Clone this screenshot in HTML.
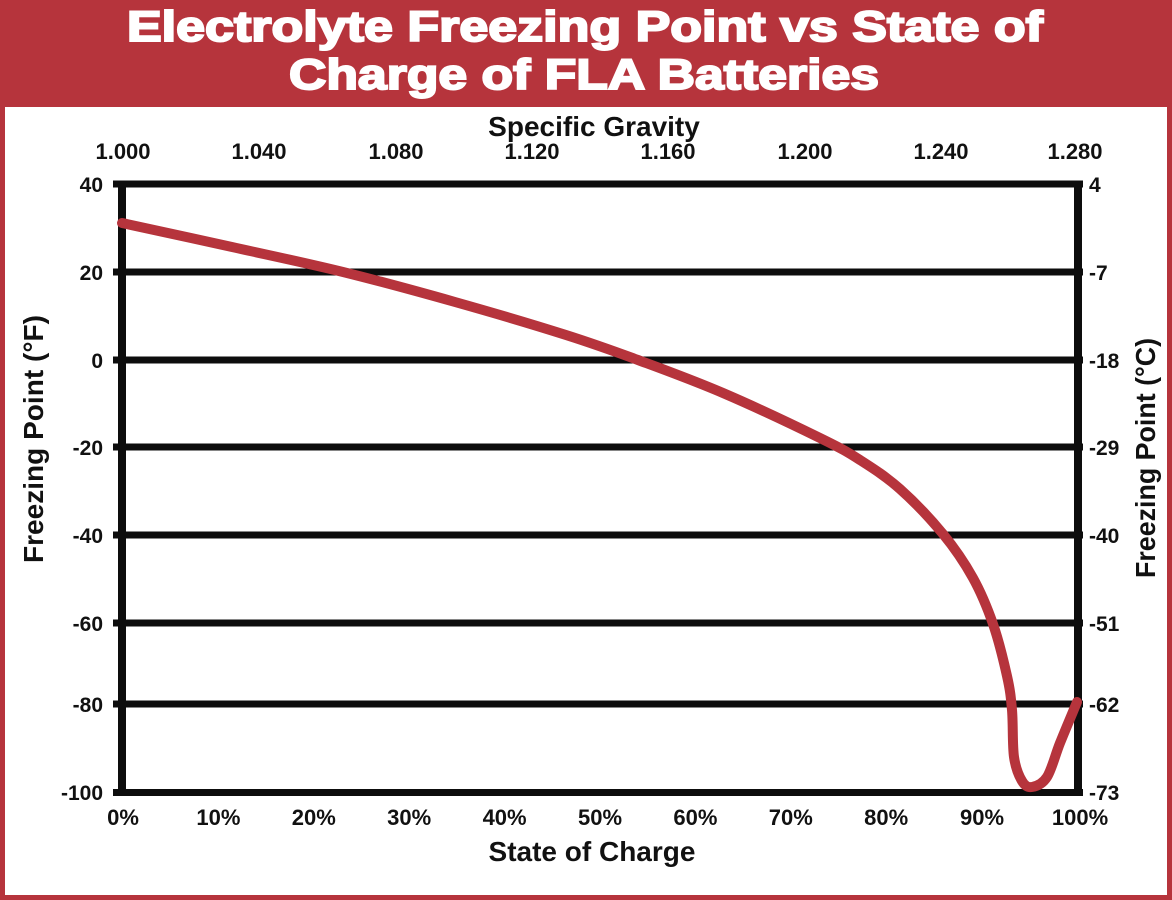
<!DOCTYPE html>
<html>
<head>
<meta charset="utf-8">
<style>
  html, body { margin: 0; padding: 0; background: #fff; }
  svg { display: block; }
  text { font-family: "Liberation Sans", Arial, sans-serif; font-weight: bold; }
</style>
</head>
<body>
<svg width="1172" height="900" viewBox="0 0 1172 900" xmlns="http://www.w3.org/2000/svg">
  <!-- frame -->
  <rect x="0" y="0" width="1172" height="900" fill="#b6343c"/>
  <rect x="5" y="107" width="1162" height="788" fill="#ffffff"/>

  <!-- title -->
  <text x="585" y="41" font-size="43" fill="#fff" stroke="#fff" stroke-width="2" text-anchor="middle" textLength="916" lengthAdjust="spacingAndGlyphs">Electrolyte Freezing Point vs State of</text>
  <text x="584" y="89" font-size="43" fill="#fff" stroke="#fff" stroke-width="2" text-anchor="middle" textLength="590" lengthAdjust="spacingAndGlyphs">Charge of FLA Batteries</text>

  <!-- top axis title & labels -->
  <text x="594" y="136" font-size="28" fill="#111" text-anchor="middle">Specific Gravity</text>
  <g font-size="22" fill="#111" text-anchor="middle">
    <text x="123" y="159">1.000</text>
    <text x="259" y="159">1.040</text>
    <text x="396" y="159">1.080</text>
    <text x="532" y="159">1.120</text>
    <text x="668" y="159">1.160</text>
    <text x="805" y="159">1.200</text>
    <text x="941" y="159">1.240</text>
    <text x="1075" y="159">1.280</text>
  </g>

  <!-- gridlines -->
  <g stroke="#0d0d0d" stroke-width="7">
    <line x1="113" y1="184" x2="1083" y2="184"/>
    <line x1="113" y1="272" x2="1083" y2="272"/>
    <line x1="113" y1="360" x2="1083" y2="360"/>
    <line x1="113" y1="447" x2="1083" y2="447"/>
    <line x1="113" y1="535" x2="1083" y2="535"/>
    <line x1="113" y1="623" x2="1083" y2="623"/>
    <line x1="113" y1="704" x2="1083" y2="704"/>
    <line x1="113" y1="792.5" x2="1083" y2="792.5"/>
  </g>
  <g stroke="#0d0d0d" stroke-width="8">
    <line x1="122" y1="181" x2="122" y2="796"/>
    <line x1="1078" y1="181" x2="1078" y2="796"/>
  </g>

  <!-- left labels -->
  <g font-size="21" fill="#111" text-anchor="end">
    <text x="103" y="192">40</text>
    <text x="103" y="280">20</text>
    <text x="103" y="368">0</text>
    <text x="103" y="455">-20</text>
    <text x="103" y="543">-40</text>
    <text x="103" y="631">-60</text>
    <text x="103" y="712">-80</text>
    <text x="103" y="800">-100</text>
  </g>

  <!-- right labels -->
  <g font-size="21" fill="#111" text-anchor="start">
    <text x="1089" y="192">4</text>
    <text x="1089" y="280">-7</text>
    <text x="1089" y="368">-18</text>
    <text x="1089" y="455">-29</text>
    <text x="1089" y="543">-40</text>
    <text x="1089" y="631">-51</text>
    <text x="1089" y="712">-62</text>
    <text x="1089" y="800">-73</text>
  </g>

  <!-- bottom labels -->
  <g font-size="22" fill="#111" text-anchor="middle">
    <text x="123" y="825">0%</text>
    <text x="218.4" y="825">10%</text>
    <text x="313.8" y="825">20%</text>
    <text x="409.2" y="825">30%</text>
    <text x="504.6" y="825">40%</text>
    <text x="600" y="825">50%</text>
    <text x="695.4" y="825">60%</text>
    <text x="790.8" y="825">70%</text>
    <text x="886.2" y="825">80%</text>
    <text x="982" y="825">90%</text>
    <text x="1080" y="825">100%</text>
  </g>
  <text x="592" y="861" font-size="28" fill="#111" text-anchor="middle">State of Charge</text>

  <!-- rotated axis titles -->
  <text transform="translate(43,439) rotate(-90)" x="0" y="0" font-size="28" fill="#111" text-anchor="middle" textLength="248" lengthAdjust="spacingAndGlyphs">Freezing Point (°F)</text>
  <text transform="translate(1155,458) rotate(-90)" x="0" y="0" font-size="28" fill="#111" text-anchor="middle" textLength="240" lengthAdjust="spacingAndGlyphs">Freezing Point (°C)</text>

  <!-- curve -->
  <path fill="none" stroke="#b6343c" stroke-width="10" stroke-linecap="round" stroke-linejoin="round"
    d="M122,223
       C140.3,227 195.2,238.8 232,247
       C268.8,255.2 305.8,262.8 343,272
       C380.2,281.2 417.8,291.5 455,302
       C492.2,312.5 535.5,325.3 566,335
       C596.5,344.7 611.8,350.3 638,360
       C664.2,369.7 692.7,380 723,393
       C753.3,406 797.2,426.8 820,438
       C842.8,449.2 846.7,451.5 860,460
       C873.3,468.5 886.2,476.7 900,489
       C913.8,501.3 930.8,519.2 943,534
       C955.2,548.8 964.7,563 973,578
       C981.3,593 987.3,607.7 993,624
       C998.7,640.3 1003.8,661.7 1007,676
       C1010.2,690.3 1010.8,696.5 1012,710
       C1013.2,723.5 1012.3,745.2 1014,757
       C1015.7,768.8 1019,776 1022,781
       C1025,786 1027.8,787.7 1032,787
       C1036.2,786.3 1042.3,784.3 1047,777
       C1051.7,769.7 1055,755.5 1060,743
       C1065,730.5 1074.2,708.8 1077,702"/>
</svg>
</body>
</html>
